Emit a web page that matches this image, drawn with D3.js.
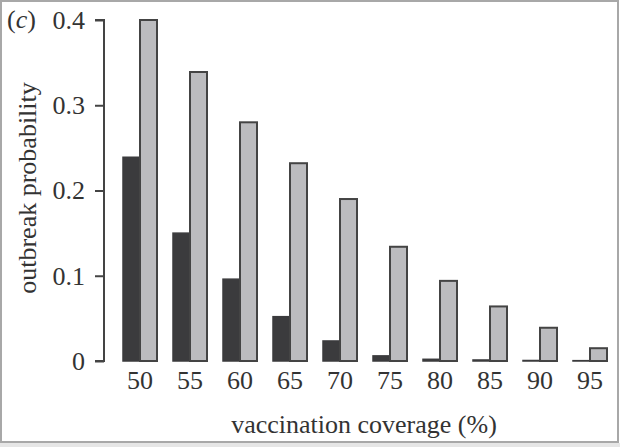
<!DOCTYPE html>
<html>
<head>
<meta charset="utf-8">
<script src="https://cdn.jsdelivr.net/npm/d3@7"></script>
<style>
  body { margin: 0; background: #fff; }
  svg text { font-family: "Liberation Serif", "DejaVu Serif", serif; fill: #333; }
</style>
</head>
<body>
<svg id="chart" width="620" height="447"></svg>
<script>
var coverage = [50, 55, 60, 65, 70, 75, 80, 85, 90, 95];
var darkSeries = [0.239, 0.150, 0.096, 0.052, 0.0235, 0.006, 0.002, 0.0012, 0.0006, 0.0004];
var lightSeries = [0.400, 0.339, 0.280, 0.232, 0.190, 0.134, 0.094, 0.064, 0.039, 0.015];
var yTicks = [0, 0.1, 0.2, 0.3, 0.4];

var svg = d3.select("#chart");
var fontSize = "26px";

// frame round the panel
svg.append("rect").attr("x", 0).attr("y", 443).attr("width", 620).attr("height", 4).attr("fill", "#e6e6e6");
svg.append("rect")
    .attr("x", 1).attr("y", 1).attr("width", 617).attr("height", 441)
    .attr("fill", "none").attr("stroke", "#a8a8a8").attr("stroke-width", 2);

var x = d3.scaleBand().domain(coverage).range([115, 615]).paddingInner(0.32).paddingOuter(0.16);
var y = d3.scaleLinear().domain([0, 0.4]).range([361, 20]);

// y axis
var yAxis = d3.axisLeft(y).tickValues(yTicks).tickSize(9).tickPadding(10)
    .tickFormat(function(d){ return d === 0 ? "0" : d3.format(".1f")(d); });
var gy = svg.append("g").attr("transform", "translate(104,0)").call(yAxis);
gy.select(".domain").attr("d", "M-9," + y(0.4) + "H0V" + y(0) + "H-9").attr("stroke", "#444").attr("stroke-width", 2);
gy.selectAll(".tick line").attr("stroke", "#444").attr("stroke-width", 2);
gy.selectAll(".tick text").style("font-size", fontSize).attr("fill", "#333").attr("font-family", "Liberation Serif");

// x labels
svg.append("g").selectAll("text").data(coverage).enter().append("text")
    .attr("x", function(d){ return x(d) + x.bandwidth() / 2; })
    .attr("y", 389)
    .attr("text-anchor", "middle")
    .style("font-size", fontSize)
    .text(function(d){ return d; });

var half = x.bandwidth() / 2;
var bars = svg.append("g");
bars.selectAll(".dark").data(coverage).enter().append("rect")
    .attr("class", "dark")
    .attr("x", function(d){ return x(d); })
    .attr("y", function(d, i){ return y(darkSeries[i]); })
    .attr("width", half)
    .attr("height", function(d, i){ return y(0) - y(darkSeries[i]); })
    .attr("fill", "#3b3b3d").attr("stroke", "#3b3b3d").attr("stroke-width", 1.5);
bars.selectAll(".light").data(coverage).enter().append("rect")
    .attr("class", "light")
    .attr("x", function(d){ return x(d) + half; })
    .attr("y", function(d, i){ return y(lightSeries[i]); })
    .attr("width", half)
    .attr("height", function(d, i){ return y(0) - y(lightSeries[i]); })
    .attr("fill", "#bcbcbf").attr("stroke", "#444").attr("stroke-width", 2);

// titles
svg.append("text").attr("x", 364).attr("y", 433).attr("text-anchor", "middle")
    .style("font-size", fontSize).text("vaccination coverage (%)");
svg.append("text").attr("transform", "translate(36,188) rotate(-90)").attr("text-anchor", "middle")
    .style("font-size", fontSize).text("outbreak probability");
var lab = svg.append("text").attr("x", 7).attr("y", 28).style("font-size", fontSize);
lab.append("tspan").text("(");
lab.append("tspan").style("font-style", "italic").text("c");
lab.append("tspan").text(")");
</script>
</body>
</html>
